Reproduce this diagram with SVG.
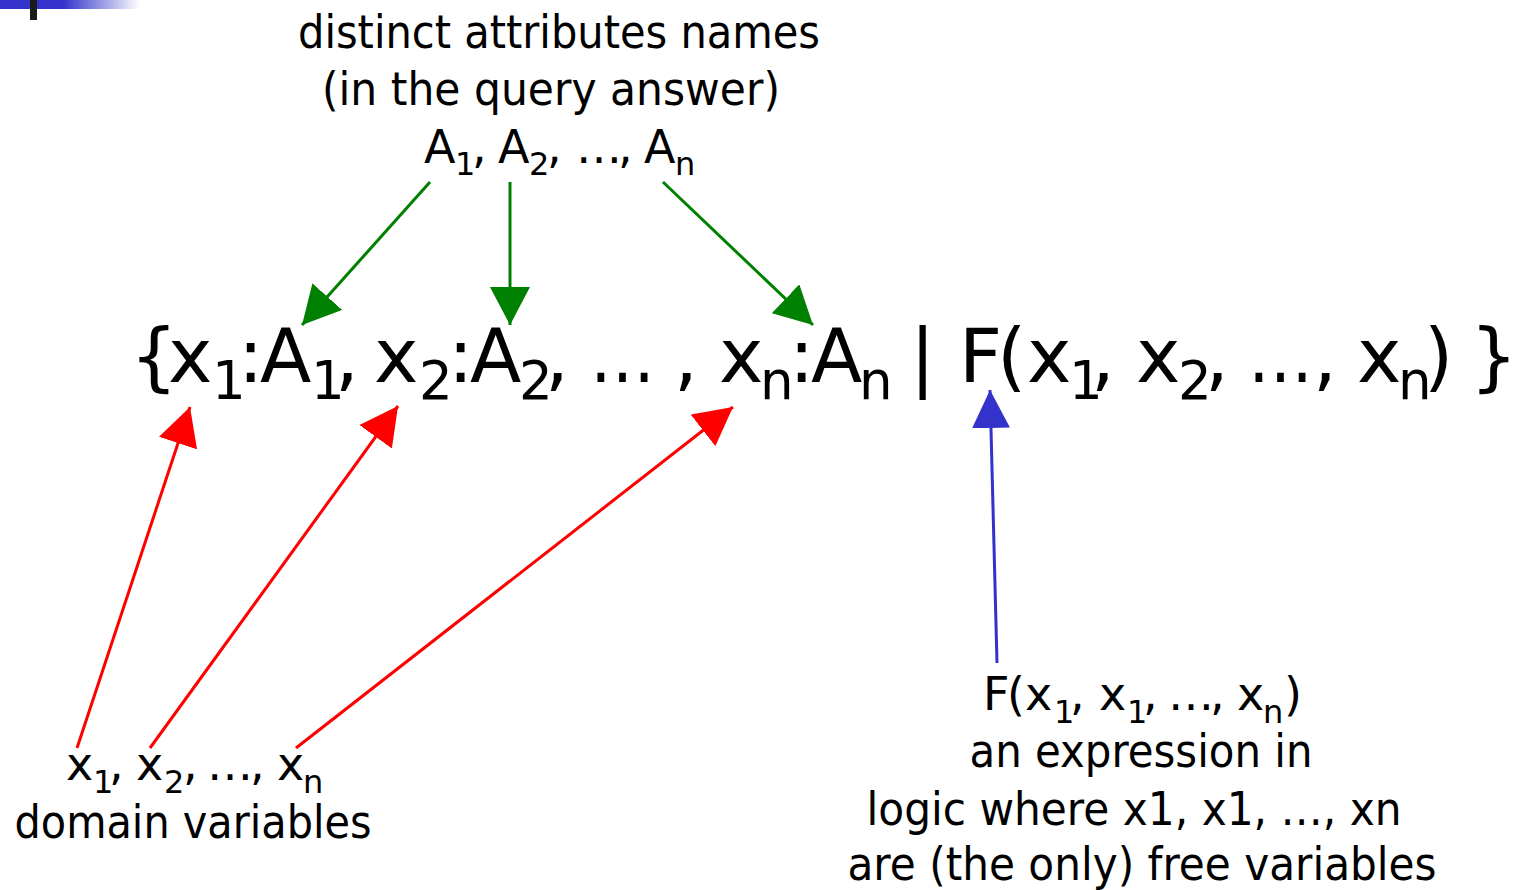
<svg xmlns="http://www.w3.org/2000/svg" width="1517" height="890" viewBox="0 0 1517 890">
<style>
text{font-family:"DejaVu Sans","Verdana",sans-serif;fill:#000}
.main{font-size:75px}
.sm{font-size:53px}
.lbl{font-size:46px}
.lsub{font-size:32px}
.g{stroke:#008000;stroke-width:3;fill:none}
.r{stroke:#ff0000;stroke-width:3;fill:none}
.b{stroke:#3333cc;stroke-width:3;fill:none}
</style>
<defs>
<linearGradient id="bar" x1="0" y1="0" x2="1" y2="0">
<stop offset="0" stop-color="#3333cc"/>
<stop offset="0.45" stop-color="#3333cc"/>
<stop offset="1" stop-color="#ffffff"/>
</linearGradient>
<marker id="mg" markerUnits="userSpaceOnUse" markerWidth="40" markerHeight="40" refX="38" refY="20" orient="auto"><path d="M0,0 L38,20 L0,40 z" fill="#008000"/></marker>
<marker id="mr" markerUnits="userSpaceOnUse" markerWidth="40" markerHeight="40" refX="38" refY="20" orient="auto"><path d="M0,0 L38,20 L0,40 z" fill="#ff0000"/></marker>
<marker id="mb" markerUnits="userSpaceOnUse" markerWidth="40" markerHeight="40" refX="38" refY="19" orient="auto"><path d="M0,0 L38,19 L0,38 z" fill="#3333cc"/></marker>
</defs>
<rect x="0" y="0" width="140" height="9" fill="url(#bar)"/>
<rect x="30" y="0" width="7" height="20" fill="#1a1a1a"/>

<g id="formula">
<text class="main"><tspan x="130" y="382">{</tspan><tspan x="168">x</tspan><tspan class="sm" x="212" y="399">1</tspan><tspan x="238" y="382">:</tspan><tspan x="260">A</tspan><tspan class="sm" x="311" y="399">1</tspan><tspan x="335" y="382">,</tspan><tspan x="374">x</tspan><tspan class="sm" x="419" y="399">2</tspan><tspan x="448" y="382">:</tspan><tspan x="470">A</tspan><tspan class="sm" x="519" y="399">2</tspan><tspan x="545" y="382">,</tspan><tspan x="590" textLength="65" lengthAdjust="spacingAndGlyphs">…</tspan><tspan x="674">,</tspan><tspan x="719">x</tspan><tspan class="sm" x="760" y="399">n</tspan><tspan x="789" y="382">:</tspan><tspan x="811">A</tspan><tspan class="sm" x="859" y="399">n</tspan><tspan x="910" y="382">|</tspan><tspan x="959">F</tspan><tspan x="997">(</tspan><tspan x="1027">x</tspan><tspan class="sm" x="1069" y="399">1</tspan><tspan x="1091" y="382">,</tspan><tspan x="1136">x</tspan><tspan class="sm" x="1178" y="399">2</tspan><tspan x="1205" y="382">,</tspan><tspan x="1248" textLength="65" lengthAdjust="spacingAndGlyphs">…</tspan><tspan x="1313">,</tspan><tspan x="1357">x</tspan><tspan class="sm" x="1398" y="399">n</tspan><tspan x="1424" y="382">)</tspan><tspan x="1470">}</tspan></text>
</g>

<g id="attrs">
<text class="lbl" x="559" y="48" text-anchor="middle" textLength="522" lengthAdjust="spacingAndGlyphs">distinct attributes names</text>
<text class="lbl" x="551" y="105" text-anchor="middle" textLength="458" lengthAdjust="spacingAndGlyphs">(in the query answer)</text>
<text class="lbl"><tspan x="424" y="163">A</tspan><tspan class="lsub" x="455" y="175">1</tspan><tspan x="472" y="163">,</tspan><tspan x="498">A</tspan><tspan class="lsub" x="529" y="175">2</tspan><tspan x="547" y="163">,</tspan><tspan x="576">…</tspan><tspan x="618">,</tspan><tspan x="644">A</tspan><tspan class="lsub" x="675" y="175">n</tspan></text>
</g>

<g id="domvars">
<text class="lbl"><tspan x="66" y="780">x</tspan><tspan class="lsub" x="93" y="793">1</tspan><tspan x="109" y="780">,</tspan><tspan x="136">x</tspan><tspan class="lsub" x="164" y="793">2</tspan><tspan x="183" y="780">,</tspan><tspan x="207">…</tspan><tspan x="250">,</tspan><tspan x="277">x</tspan><tspan class="lsub" x="303" y="793">n</tspan></text>
<text class="lbl" x="193" y="838" text-anchor="middle" textLength="357" lengthAdjust="spacingAndGlyphs">domain variables</text>
</g>

<g id="expr">
<text class="lbl"><tspan x="983" y="710">F</tspan><tspan x="1007">(</tspan><tspan x="1025">x</tspan><tspan class="lsub" x="1054" y="723">1</tspan><tspan x="1070" y="710">,</tspan><tspan x="1099">x</tspan><tspan class="lsub" x="1127" y="723">1</tspan><tspan x="1143" y="710">,</tspan><tspan x="1168">…</tspan><tspan x="1210">,</tspan><tspan x="1237">x</tspan><tspan class="lsub" x="1263" y="723">n</tspan><tspan x="1284" y="710">)</tspan></text>
<text class="lbl" x="1141" y="767" text-anchor="middle" textLength="343" lengthAdjust="spacingAndGlyphs">an expression in</text>
<text class="lbl" x="1134" y="825" text-anchor="middle" textLength="535" lengthAdjust="spacingAndGlyphs">logic where x1, x1, …, xn</text>
<text class="lbl" x="1142" y="880" text-anchor="middle" textLength="589" lengthAdjust="spacingAndGlyphs">are (the only) free variables</text>
</g>

<g id="connectors">
<line class="g" x1="430" y1="182" x2="302" y2="325" marker-end="url(#mg)"/>
<line class="g" x1="510" y1="182" x2="510" y2="325" marker-end="url(#mg)"/>
<line class="g" x1="663" y1="182" x2="813" y2="325" marker-end="url(#mg)"/>
<line class="r" x1="77" y1="748" x2="190" y2="407" marker-end="url(#mr)"/>
<line class="r" x1="150" y1="748" x2="398" y2="406" marker-end="url(#mr)"/>
<line class="r" x1="296" y1="748" x2="733" y2="407" marker-end="url(#mr)"/>
<line class="b" x1="997" y1="663" x2="990" y2="390" marker-end="url(#mb)"/>
</g>
</svg>
